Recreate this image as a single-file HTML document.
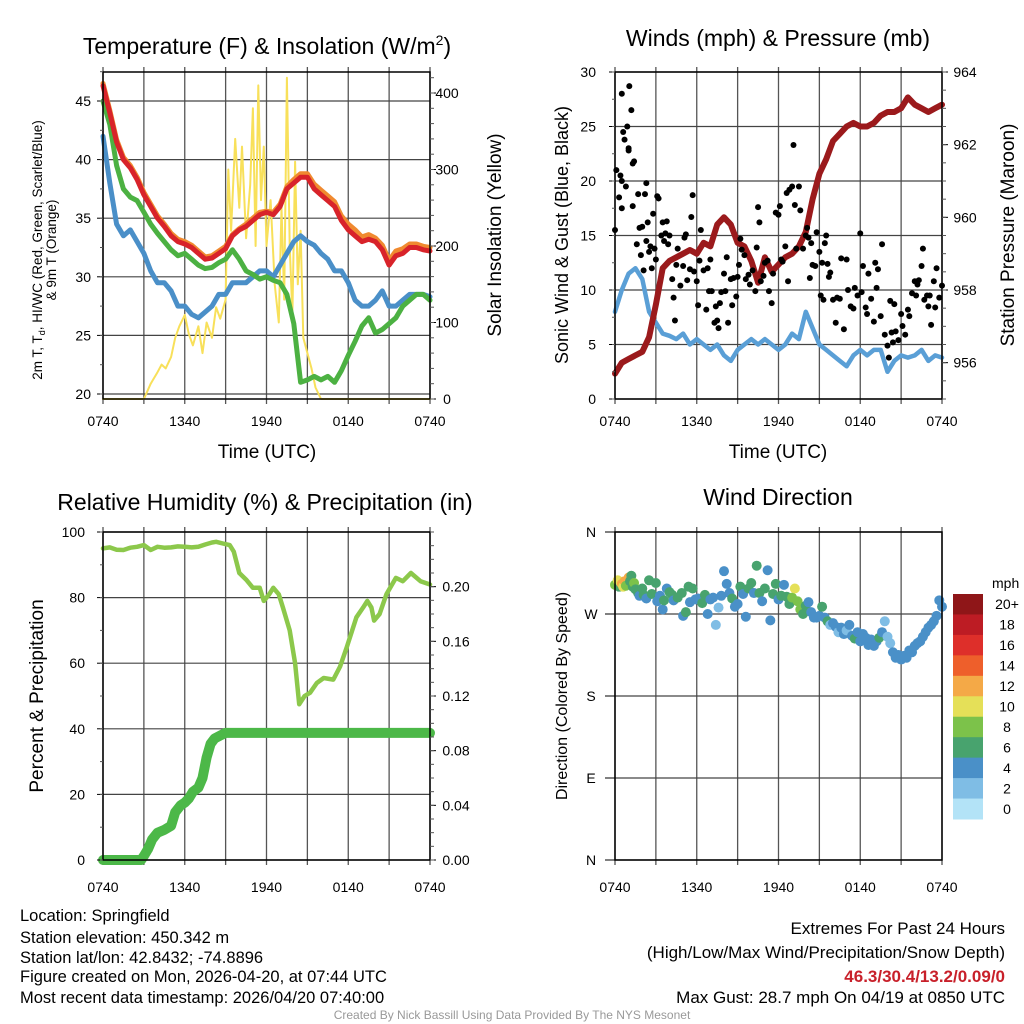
<!DOCTYPE html>
<html><head><meta charset="utf-8"><style>
html,body{margin:0;padding:0;background:#fff;}
svg{display:block;font-family:"Liberation Sans",sans-serif;}
</style></head><body>
<svg id="s" width="1024" height="1024" viewBox="0 0 1024 1024" xmlns="http://www.w3.org/2000/svg">
<text x="267" y="54" font-size="23" text-anchor="middle">Temperature (F) &amp; Insolation (W/m<tspan dy="-9" font-size="14">2</tspan><tspan dy="9">)</tspan></text>
<text x="778" y="46" font-size="23" text-anchor="middle">Winds (mph) &amp; Pressure (mb)</text>
<text x="265" y="510" font-size="23" text-anchor="middle">Relative Humidity (%) &amp; Precipitation (in)</text>
<text x="778" y="505" font-size="23" text-anchor="middle">Wind Direction</text>
<text x="267" y="458" font-size="19" text-anchor="middle">Time (UTC)</text>
<text x="778" y="458" font-size="19" text-anchor="middle">Time (UTC)</text>
<text transform="translate(42,250) rotate(-90)" font-size="13.5" text-anchor="middle">2m T, T<tspan font-size="9" dy="3">d</tspan><tspan dy="-3">, HI/WC (Red, Green, Scarlet/Blue)</tspan></text>
<text transform="translate(56,250) rotate(-90)" font-size="13.5" text-anchor="middle">&amp; 9m T (Orange)</text>
<text transform="translate(501,235) rotate(-90)" font-size="19" text-anchor="middle">Solar Insolation (Yellow)</text>
<text transform="translate(568,235) rotate(-90)" font-size="18" text-anchor="middle">Sonic Wind &amp; Gust (Blue, Black)</text>
<text transform="translate(1014,235) rotate(-90)" font-size="19" text-anchor="middle">Station Pressure (Maroon)</text>
<text transform="translate(43,696) rotate(-90)" font-size="19" text-anchor="middle">Percent &amp; Precipitation</text>
<text transform="translate(567,696) rotate(-90)" font-size="16" text-anchor="middle">Direction (Colored By Speed)</text>
<g font-size="16.5">
<text x="20" y="921">Location: Springfield</text>
<text x="20" y="943">Station elevation: 450.342 m</text>
<text x="20" y="963">Station lat/lon: 42.8432; -74.8896</text>
<text x="20" y="982">Figure created on Mon, 2026-04-20, at 07:44 UTC</text>
<text x="20" y="1003">Most recent data timestamp: 2026/04/20 07:40:00</text>
</g>
<g font-size="17" text-anchor="end">
<text x="1005" y="934">Extremes For Past 24 Hours</text>
<text x="1005" y="958">(High/Low/Max Wind/Precipitation/Snow Depth)</text>
<text x="1005" y="982" fill="#c8202a" font-weight="bold">46.3/30.4/13.2/0.09/0</text>
<text x="1005" y="1003">Max Gust: 28.7 mph On 04/19 at 0850 UTC</text>
</g>
<text x="512" y="1019" font-size="12" fill="#999" text-anchor="middle">Created By Nick Bassill Using Data Provided By The NYS Mesonet</text>
</svg>
<script>
// ---- data ----
const hours=[0,0.5,1,1.5,2,2.5,3,3.5,4,4.5,5,5.5,6,6.5,7,7.5,8,8.5,9,9.5,10,10.5,11,11.5,12,12.5,13,13.5,14,14.5,15,15.5,16,16.5,17,17.5,18,18.5,19,19.5,20,20.5,21,21.5,22,22.5,23,23.5,24];
const tempRed=[46.3,44,41.5,40,39.3,38.3,37,36,35,34.3,33.5,33,32.8,32.5,32,31.5,31.6,32,32.4,33.5,34,34.3,34.8,35.3,35.5,35.3,36,37.5,38,38.5,38.5,37.5,37,36.5,36,34.8,34,33.5,33,33.2,33,32.3,31,31.8,32,32.5,32.5,32.3,32.2];
const tempOrange=[46.5,44.2,41.7,40.2,39.5,38.5,37.2,36.2,35.2,34.5,33.7,33.2,33,32.7,32.2,31.7,31.8,32.2,32.6,33.6,34.1,34.5,35,35.5,35.6,35.5,36.2,37.7,38.3,38.8,38.8,37.9,37.4,36.9,36.4,35.2,34.5,34,33.4,33.6,33.3,32.7,31.4,32.2,32.4,32.8,32.8,32.6,32.5];
const tempGreen=[45,43,39.5,37.5,36.8,36.5,35.5,34.5,33.7,33,32.3,31.8,32,31.5,31,30.7,30.8,31.2,31.5,32.3,31.5,30.5,30.2,29.8,30,29.7,29.5,28.5,26,21,21.2,21.5,21.2,21.5,21,22,23.3,24.5,25.8,26.5,25.2,25.5,26,26.5,27.5,28,28.5,28.5,28];
const tempBlue=[42,38,34.5,33.5,34,33,32,30.5,29.5,29.5,28.8,27.5,27.5,26.8,26.5,27,27.5,28.5,28.5,29.5,29.5,29.5,30,30.5,30.5,30,31,32,33,33.5,33,32.7,32,31.5,30.5,30.5,29.5,28,27.5,27.5,28,28.8,27.5,27.5,28,28.5,28.5,28.5,28.3];
const solarT=[0,3,3.5,4,4.3,4.6,5,5.3,5.6,6,6.3,6.6,7,7.3,7.6,8,8.3,8.6,9,9.2,9.4,9.7,10,10.2,10.5,10.8,11,11.2,11.4,11.6,11.8,12,12.3,12.6,12.9,13.1,13.3,13.5,13.7,13.9,14.1,14.3,14.5,14.7,15,15.3,15.6,16,24];
const solarV=[0,0,20,35,45,40,55,80,95,110,85,70,95,60,100,80,120,105,130,300,220,340,250,330,210,280,380,200,410,260,330,200,260,150,100,250,130,420,200,110,310,150,220,80,60,40,15,0,0];
const pressure=[955.7,956,956.1,956.2,956.3,956.7,957.6,958.6,958.8,958.9,959,959.1,959,959.3,959.2,959.8,960,959.8,959.3,959.2,958.8,958.2,958.9,958.5,958.7,958.9,959,959.2,959.6,960.5,961.2,961.6,962.1,962.3,962.5,962.6,962.5,962.5,962.6,962.8,962.9,962.9,963,963.3,963.1,963,962.9,963,963.1];
const windSpeed=[8,10,11.5,12,11,8,7,6,5.8,5.5,6,5,5.5,5,4.5,5,4,3.5,4.5,5,5.5,5,5.5,5,4.5,5,6,5.5,8,6.5,5,4.5,4,3.5,3,4,4.5,4,4.5,4.5,2.5,3.5,4,3.8,4,4.5,3.5,4,3.8];
const gustT=[0,0.1,0.3,0.4,0.5,0.5,0.5,0.6,0.7,0.8,0.9,1,1,1.05,1.2,1.3,1.4,1.3,1.6,1.7,1.8,1.9,2,2.1,2.2,2.3,2.3,2.4,2.5,2.6,2.7,2.8,2.9,3,3.1,3.2,3.4,3.5,3.6,3.7,3.8,3.9,4,4.2,4.3,4.4,4.5,4.6,4.8,5,5.1,5.2,5.3,5.5,5.6,5.7,5.8,6,6.1,6.2,6.3,6.5,6.7,6.8,6.9,7,7.1,7.3,7.4,7.5,7.6,7.7,7.8,8,8.1,8.2,8.3,8.5,8.6,8.7,8.9,9,9.1,9.2,9.3,9.5,9.6,9.8,9.9,10.1,10.3,10.4,10.5,10.6,10.7,10.9,11,11.2,11.3,11.5,11.6,11.8,12,12.1,12.2,12.3,12.5,12.6,12.7,12.8,13,13.1,13.2,13.3,13.5,13.6,13.8,14,14.1,14.2,14.3,14.4,14.5,14.7,14.8,15,15.1,15.2,15.3,15.4,15.5,15.6,15.7,15.8,16,16.2,16.3,16.5,16.6,16.8,17,17.1,17.3,17.5,17.6,17.8,18,18.1,18.2,18.4,18.5,18.6,18.8,19,19.1,19.2,19.3,19.5,19.6,19.8,20,20.1,20.2,20.3,20.4,20.5,20.6,20.8,21,21.1,21.3,21.5,21.6,21.8,22,22.1,22.2,22.3,22.5,22.6,22.7,22.9,23,23.1,23.2,23.4,23.5,23.6,23.8,24];
const gustV=[15.5,21,18.5,20.5,17.5,20,28,24.5,23.8,19.5,25,23,22.8,28.7,26.5,21.6,21.8,17.7,14.2,18.8,15.7,13.2,15.8,11.8,18.8,19.8,14.5,16.2,13.5,14,12,17,13.8,12.8,18.6,18.4,15,16.2,14.5,15.2,16.3,14.2,15,11,9.3,7.2,12.3,13.8,10.4,12.2,14.8,15.1,10.9,11.9,16.7,18.7,11.7,10.8,8.6,12.7,15.5,11.8,8.2,12,9.9,12.8,9.9,7,8.5,7.2,6.5,8.8,9.8,11.5,9.9,13,7,11,8.6,11.1,9.4,11.2,12.3,14.7,13.7,13.2,11,11.4,10.5,11.8,9.9,13.9,17.6,16.2,10.8,11.3,12.5,12.7,9.9,8.8,11.5,17.1,16.9,17.7,12.8,12.6,14,18.9,10.8,19.2,19.5,23.3,17.8,13.8,19.5,17.3,13.8,15,15.7,14.8,11.1,14.3,12.3,12.2,15.3,13.5,9.5,12.5,9.1,14.3,15,12.4,11.2,11.6,9.1,7,9.3,9.2,12.9,6.4,12.8,10,8.5,8.3,10.2,9.5,15.2,9.8,12.2,8.4,7.8,11.5,9.2,7.1,12.5,10.2,11.9,7.6,14.2,5.9,4.9,3.8,9,6.1,5.2,8.7,6.2,5.4,7.8,6.7,5.9,8.2,7.6,9.7,10.8,9.5,10.5,10.9,12.2,13.8,9.1,9.5,8.5,9.5,6.8,10.8,8.4,12,9.3,10.4];
const rhT=[0,0.5,1,1.5,2,2.5,3,3.5,4,4.5,5,5.5,6,6.5,7,7.5,8,8.3,8.8,9.3,9.6,10,10.5,11,11.5,11.8,12.2,12.5,12.9,13.2,13.7,14.1,14.4,14.8,15.2,15.7,16.2,16.9,17.4,17.9,18.6,19.1,19.4,19.7,19.9,20.3,20.8,21.5,22,22.6,23.3,24];
const rhV=[95,95.3,94.6,94.5,95.2,95.5,96,94.5,95.5,95.2,95.3,95.6,95.5,95.3,95.5,96.2,96.8,97,96.5,96,94,87.5,85.5,83,83,79,81,83,81,77,70,60,47.5,50,51,54,55.5,55,59,65,74,77,79,77,73,75,81,86,85,87.5,85,84];
const precipT=[0,2.8,3,3.3,3.6,4,4.5,5,5.3,5.7,6,6.3,6.6,7,7.3,7.6,7.9,8.2,8.6,9,24];
const precipV=[0,0,0.003,0.008,0.015,0.02,0.022,0.025,0.035,0.04,0.042,0.045,0.05,0.053,0.06,0.075,0.085,0.089,0.091,0.093,0.093];
const dirT=[0,0.2,0.3,0.4,0.5,0.6,0.7,0.8,1,1.1,1.2,1.3,1.4,1.5,1.7,1.8,2,2.1,2.3,2.5,2.7,3,3.1,3.3,3.5,3.6,3.8,4,4.2,4.3,4.6,4.9,5,5.2,5.4,5.5,5.7,5.9,6.1,6.4,6.6,6.8,7,7.2,7.4,7.6,7.8,8,8.2,8.4,8.6,8.8,9,9.2,9.4,9.6,9.8,10,10.2,10.4,10.6,10.8,11,11.2,11.4,11.6,11.8,12,12.2,12.4,12.6,12.8,13,13.2,13.4,13.6,13.8,14,14.2,14.4,14.6,14.8,15,15.2,15.4,15.6,15.8,16,16.2,16.4,16.6,16.8,17,17.2,17.4,17.6,17.8,18,18.2,18.4,18.6,18.8,19,19.2,19.4,19.6,19.8,20,20.2,20.4,20.6,20.8,21,21.2,21.4,21.6,21.8,22,22.2,22.4,22.6,22.8,23,23.2,23.4,23.6,23.8,24];
const dirDeg=[302,307,300,305,303,300,306,301,310,306,312,300,304,297,293,290,298,291,287,307,292,304,284,290,275,285,298,294,291,285,288,293,268,272,300,283,298,286,287,282,291,270,286,288,258,277,290,317,303,293,287,278,281,300,292,267,298,304,293,323,293,284,298,318,263,292,303,286,290,302,289,281,288,298,284,275,270,279,283,272,266,266,268,278,266,262,258,260,256,250,255,248,252,258,246,243,250,240,248,244,236,242,235,240,244,250,262,245,238,228,222,225,220,224,222,230,228,235,238,240,245,250,255,258,262,268,285,278];
const dirSpd=[8,10,6,11,12,10,12,8,13,7,6,6,8,6,6,4,6,6,4,6,7,6,4,5,4,6,4,6,6,4,6,6,4,6,6,4,6,4,4,6,6,4,4,4,2,2,4,4,4,4,6,4,4,6,4,4,6,6,4,6,6,4,6,4,4,6,6,4,6,4,6,6,8,10,8,8,6,6,4,4,4,4,4,6,4,6,2,4,4,2,4,4,2,4,4,6,4,4,4,4,4,4,4,4,6,4,2,2,2,4,4,4,4,4,4,4,4,4,4,4,4,4,4,4,4,4,4,4];
const speedBins=["0","2","4","6","8","10","12","14","16","18","20+"];
const speedColors=["#b3e3f7","#7fbde5","#4a90c8","#48a36e","#7cc24a","#e5e058","#f4a947","#ee5f2b","#de2f2a","#bd1c24","#8f1618"];
const timeTicks=["0740","1340","1940","0140","0740"];
const tempTicks=[20,25,30,35,40,45];
const solarTicks=[0,100,200,300,400];
const windTicks=[0,5,10,15,20,25,30];
const presTicks=[956,958,960,962,964];
const rhTicks=[0,20,40,60,80,100];
const precipTicks=[0,0.04,0.08,0.12,0.16,0.20];
const dirTicks=["N","E","S","W","N"];

// ---- helpers ----
const S=document.getElementById('s');const NS='http://www.w3.org/2000/svg';
function mk(tag,at,parent){const e=document.createElementNS(NS,tag);for(const k in at)e.setAttribute(k,at[k]);(parent||S).appendChild(e);return e;}
function lin(d0,d1,r0,r1){return v=>r0+(v-d0)*(r1-r0)/(d1-d0);}
function panel(name){
  const g=mk('g',{});
  
  
  return g;
}
function grid(g,L,R,T,B,yvals,ys,xs){
  for(let h=0;h<=24;h+=3){const x=xs(h);const l=mk('line',{x1:x,x2:x,y1:T-5,y2:B+5,stroke:'#555','stroke-width':1.3},g);
    
    }
  yvals.forEach(v=>{const y=ys(v);const l=mk('line',{x1:L,x2:R,y1:y,y2:y,stroke:'#444','stroke-width':1.2},g);
    
    });
}
function frame(g,L,R,T,B){const r=mk('rect',{x:L,y:T,width:R-L,height:B-T,fill:'none',stroke:'#000','stroke-width':1.5},g);
  
  }
function xlabels(g,xs,y){timeTicks.forEach((t,i)=>{const tx=mk('text',{x:xs(i*6),y:y,'font-size':14,'text-anchor':'middle'},g);tx.textContent=t;
  
  });}
function ylabels(g,vals,ys,x,anchor,fmt,tickX1,tickX2){vals.forEach(v=>{const y=ys(v);const tx=mk('text',{x:x,y:y+5,'font-size':14,'text-anchor':anchor},g);tx.textContent=fmt(v);
  
  
  mk('line',{x1:tickX1,x2:tickX2,y1:y,y2:y,stroke:'#000','stroke-width':1},g);});}
function minor(g,x1,x2,T,B,ys,v0,v1,step){for(let v=v0;v<=v1+1e-9;v+=step){const y=ys(v);if(y<T-0.5||y>B+0.5)continue;mk('line',{x1:x1,x2:x2,y1:y,y2:y,stroke:'#555','stroke-width':1},g);}}
function path(g,tx,ty,xs,ys,st,name){let d='';tx.forEach((t,i)=>{d+=(i?'L':'M')+xs(t).toFixed(1)+','+ys(ty[i]).toFixed(1);});
  const p=mk('path',Object.assign({d:d,fill:'none','stroke-linejoin':'round','stroke-linecap':'round'},st),g);
  
  return p;}

// ---- Panel 1: temperature ----
{const L=103,R=430,T=72,B=399;const g=panel('temperature');
 const xs=lin(0,24,L,R),ys=lin(20,45,394,101),ss=lin(0,400,399,93);
 grid(g,L,R,T,B,tempTicks,ys,xs);
 path(g,solarT,solarV,xs,ss,{stroke:'#f8e05a','stroke-width':2},'solar-line');
 path(g,hours,tempBlue,xs,ys,{stroke:'#4a8fc8','stroke-width':5},'windchill-line');
 path(g,hours,tempGreen,xs,ys,{stroke:'#4cb142','stroke-width':5},'dewpoint-line');
 path(g,hours,tempOrange,xs,ys,{stroke:'#f08a30','stroke-width':5},'temp-9m-line');
 path(g,hours,tempRed,xs,ys,{stroke:'#d8232a','stroke-width':5},'temp-2m-line');
 frame(g,L,R,T,B);
 ylabels(g,tempTicks,ys,91,'end',v=>v,L-6,L);
 minor(g,L-3,L,T,B,ys,20,47.5,2.5);
 ylabels(g,solarTicks,ss,447,'middle',v=>v,R,R+6);
 minor(g,R,R+4,T,B,ss,0,420,20);
 xlabels(g,xs,426);}
// ---- Panel 2: wind ----
{const L=615,R=942,T=72,B=399;const g=panel('wind');
 const xs=lin(0,24,L,R),ys=lin(0,30,399,72),ps=lin(955,964,399,72);
 grid(g,L,R,T,B,windTicks,ys,xs);
 path(g,hours,windSpeed,xs,ys,{stroke:'#5a9fd6','stroke-width':4.5},'wind-speed-line');
 path(g,hours,pressure,xs,ps,{stroke:'#9b1a1c','stroke-width':6},'pressure-line');
 gustT.forEach((t,i)=>{const c=mk('circle',{cx:xs(t),cy:ys(gustV[i]),r:3,fill:'#000'},g);
   
   });
 frame(g,L,R,T,B);
 ylabels(g,windTicks,ys,596,'end',v=>v,L-6,L);
 minor(g,L-3,L,T,B,ys,0,30,2.5);
 ylabels(g,presTicks,ps,965,'middle',v=>v,R,R+6);
 minor(g,R,R+4,T,B,ps,955,964,0.5);
 xlabels(g,xs,426);}
// ---- Panel 3: RH ----
{const L=103,R=430,T=532,B=860;const g=panel('humidity');
 const xs=lin(0,24,L,R),ys=lin(0,100,860,532),ps=lin(0,0.24,860,532);
 grid(g,L,R,T,B,rhTicks,ys,xs);
 path(g,precipT,precipV,xs,ps,{stroke:'#4cb848','stroke-width':10},'precip-line');
 path(g,rhT,rhV,xs,ys,{stroke:'#8cc84b','stroke-width':4.5},'rh-line');
 frame(g,L,R,T,B);
 ylabels(g,rhTicks,ys,85,'end',v=>v,L-6,L);
 minor(g,L-3,L,T,B,ys,0,100,10);
 ylabels(g,precipTicks,ps,456,'middle',v=>v.toFixed(2),R,R+6);
 minor(g,R,R+4,T,B,ps,0,0.24,0.01);
 xlabels(g,xs,892);}
// ---- Panel 4: direction ----
{const L=615,R=942,T=532,B=860;const g=panel('direction');
 const xs=lin(0,24,L,R),ys=lin(0,360,860,532);
 grid(g,L,R,T,B,[0,90,180,270,360],ys,xs);
 dirT.forEach((t,i)=>{const b=Math.min(10,Math.floor(dirSpd[i]/2));const c=mk('circle',{cx:xs(t),cy:ys(dirDeg[i]),r:5,fill:speedColors[b]},g);
   
   });
 frame(g,L,R,T,B);
 dirTicks.forEach((d,i)=>{const y=ys(i*90);const tx=mk('text',{x:591,y:y+5,'font-size':14,'text-anchor':'middle'},g);tx.textContent=d;
   
   
   mk('line',{x1:L-10,x2:L,y1:y,y2:y,stroke:'#000'},g);});
 xlabels(g,xs,892);
 const lg=mk('g',{},S);
 
 
 const top=594,bh=(819-594)/speedBins.length;
 const mt=mk('text',{x:992,y:588,'font-size':14},lg);mt.textContent='mph';
 speedBins.forEach((lab,i)=>{const k=speedBins.length-1-i;const y=top+i*bh;
   const r=mk('rect',{x:953,y:y,width:30,height:bh+0.5,fill:speedColors[k]},lg);
   
   
   const tx=mk('text',{x:1007,y:y+bh/2+5,'font-size':14,'text-anchor':'middle'},lg);tx.textContent=speedBins[k];
   
   });
}
</script>
</body></html>
